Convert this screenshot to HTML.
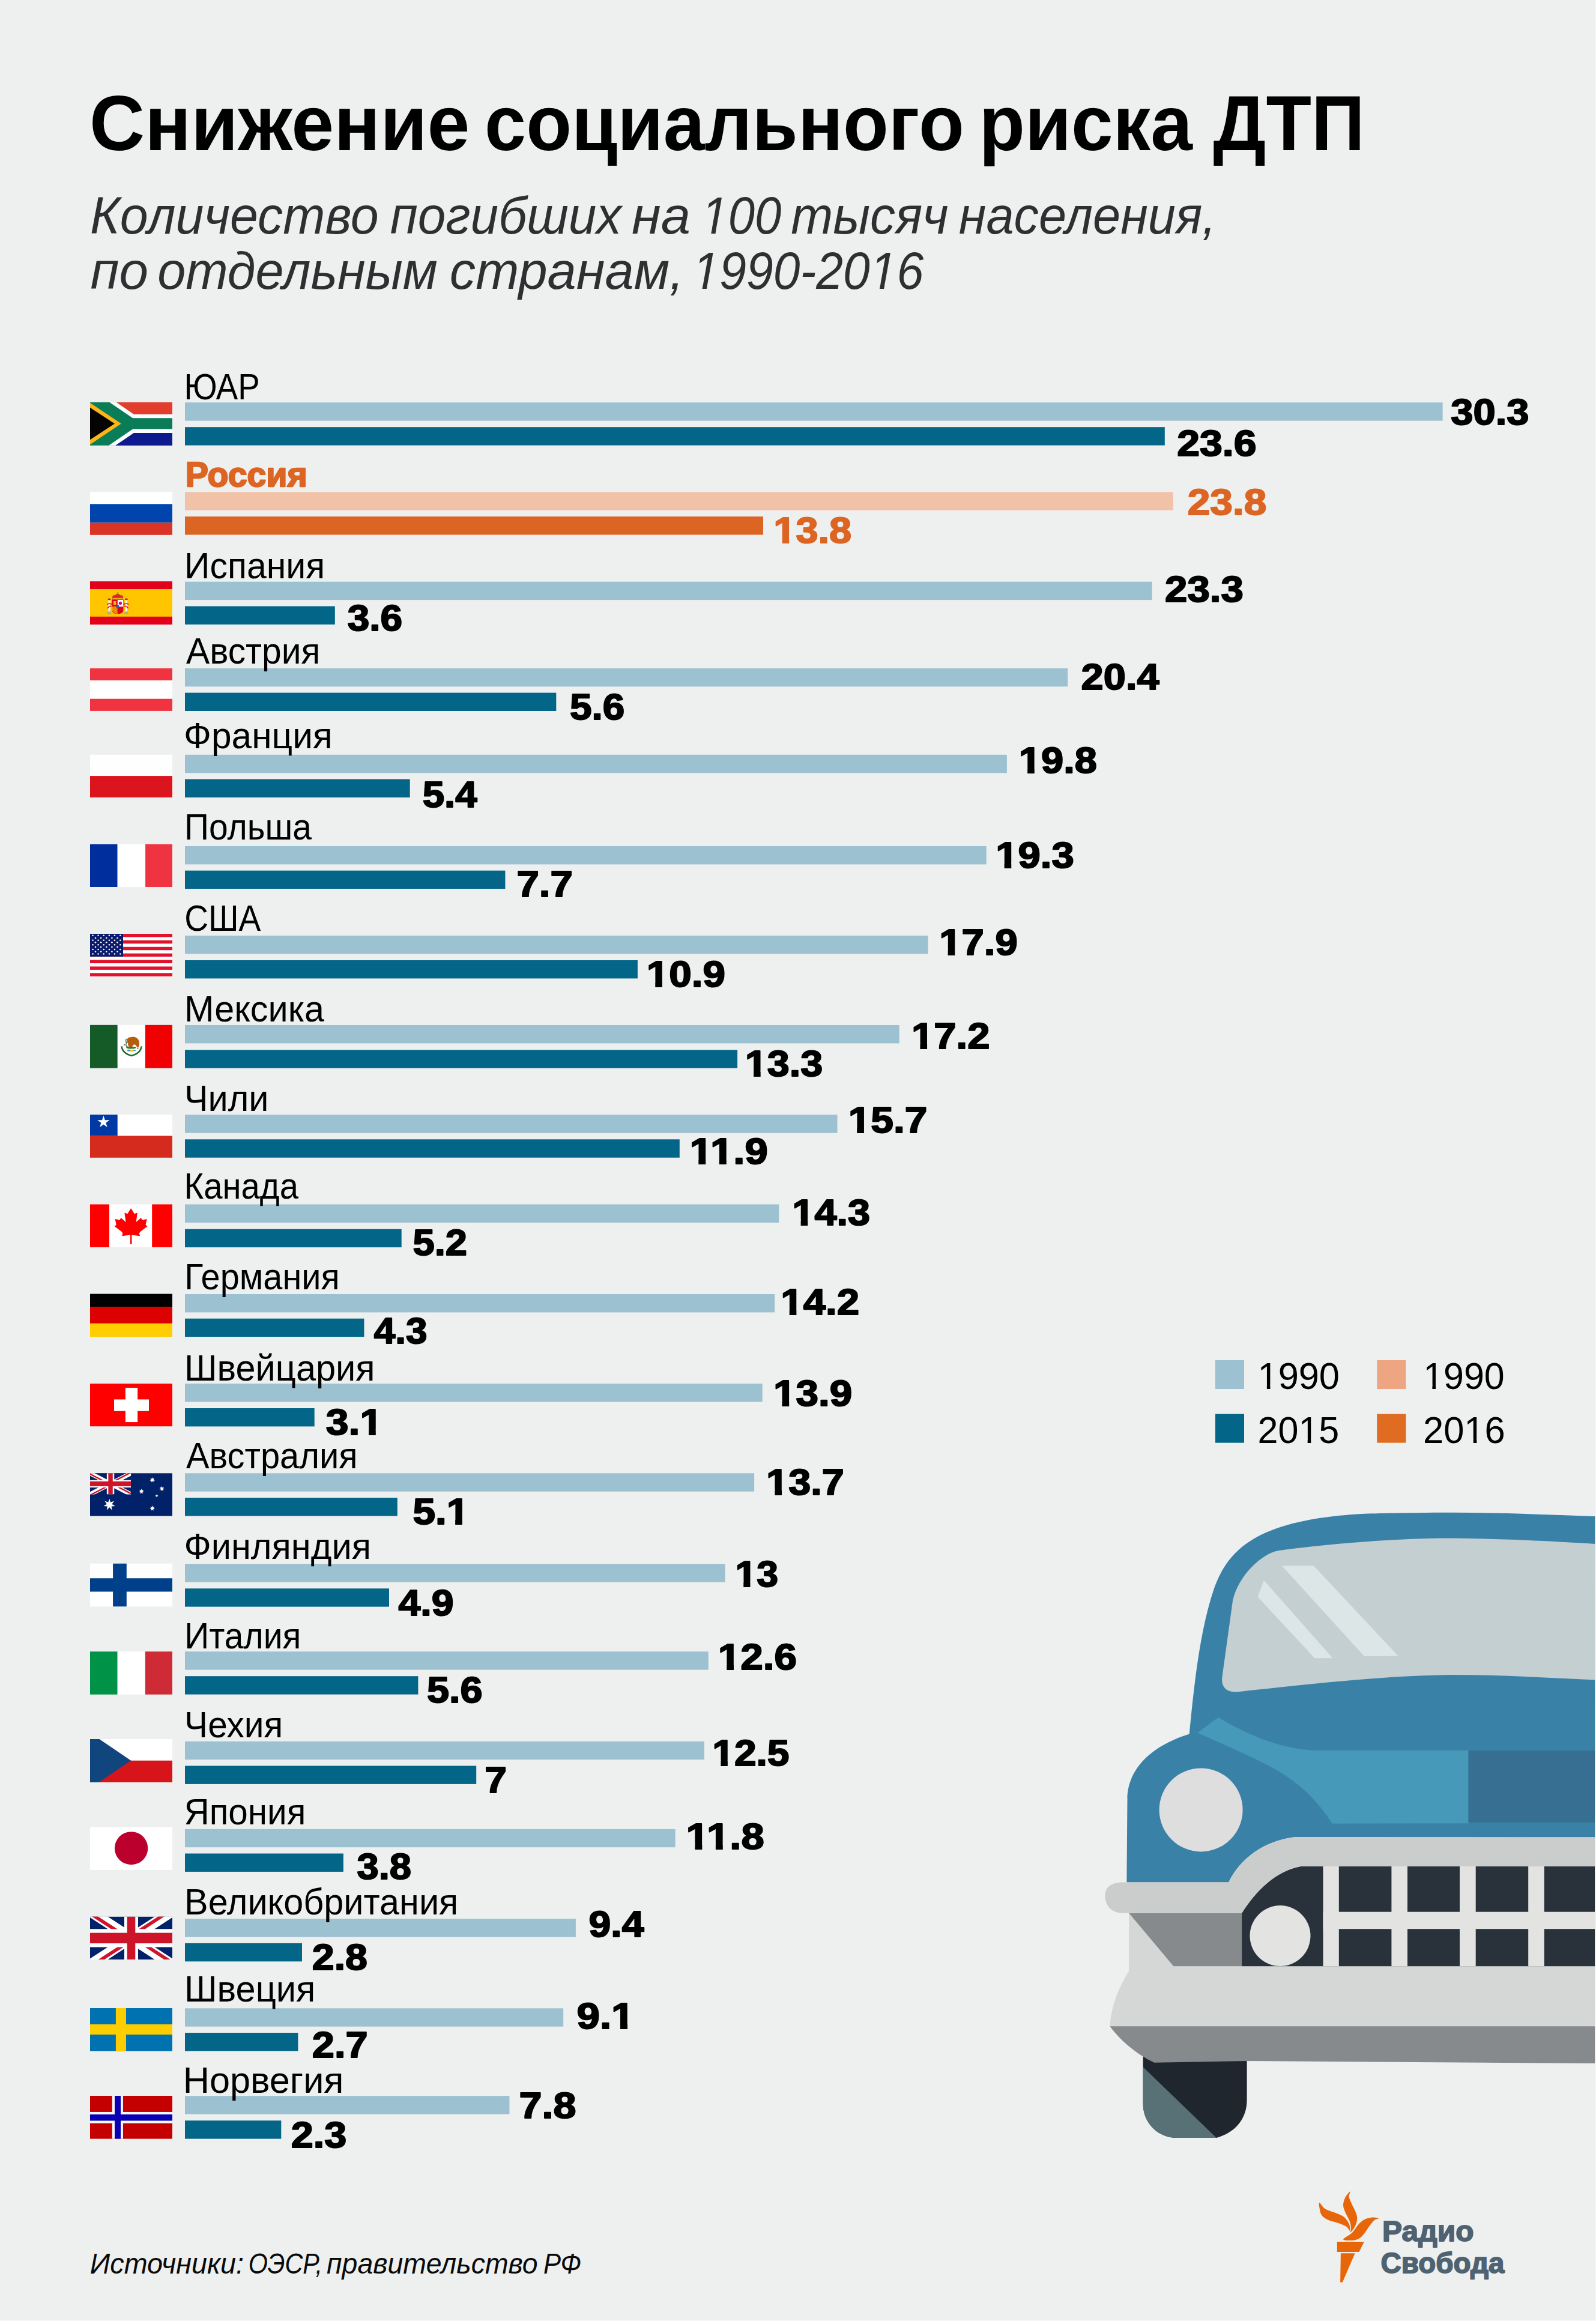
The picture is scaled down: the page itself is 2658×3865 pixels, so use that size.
<!DOCTYPE html>
<html lang="ru"><head><meta charset="utf-8"><title>Снижение социального риска ДТП</title>
<style>
html,body{margin:0;padding:0;background:#EEF0EF;}
svg{display:block;}
text{font-family:"Liberation Sans",sans-serif;}
</style></head>
<body>
<svg width="2658" height="3865" viewBox="0 0 2658 3865">
<rect width="2658" height="3865" fill="#EEF0EF"/>
<path d="M1903.6,3415 L2076.6,3415 L2076.6,3497 C2076.6,3530 2055,3552 2025.8,3560 L1960,3560 C1928,3560 1903.6,3535 1903.6,3503 Z" fill="#1F262D"/>
<path d="M1903.6,3442 L2025.8,3560 L1960,3560 C1928,3560 1903.6,3535 1903.6,3503 Z" fill="#587176"/>
<path d="M1848.2,3374 L2656.2,3374 L2656.2,3436 L2077.5,3432 L1922.4,3434.7 C1893,3421 1866,3398 1848.2,3374 Z" fill="#868A8D"/>
<path d="M1880.1,3185.7 L1954.4,3274.3 L2656.2,3274.3 L2656.2,3374.2 L1848.2,3374.2 C1851,3340 1862,3312 1880.1,3282 Z" fill="#D5D7D6"/>
<path d="M1880.1,3185.7 L2068.1,3185.7 L2068.1,3274.3 L1954.4,3274.3 Z" fill="#868A8D"/>
<path d="M2068.1,3186 C2090,3150 2125,3115 2166,3107.9 L2656.2,3107.9 L2656.2,3274.3 L2068.1,3274.3 Z" fill="#29313A"/>
<rect x="2203.5" y="3106" width="26.3" height="168.3" fill="#E3E3E1"/>
<rect x="2317.4" y="3106" width="26.6" height="168.3" fill="#E3E3E1"/>
<rect x="2431.0" y="3106" width="26.7" height="168.3" fill="#E3E3E1"/>
<rect x="2545.2" y="3106" width="26.6" height="168.3" fill="#E3E3E1"/>
<rect x="2203.5" y="3183.7" width="452.7" height="28.5" fill="#E3E3E1"/>
<circle cx="2132" cy="3223.6" r="50.5" fill="#E3E3E1"/>
<path d="M1980.7,2887.6 C1990,2790 2000,2710 2022,2645 C2040,2595 2070,2565 2125.6,2545.2 C2175,2528 2240,2521 2300,2520.1 C2340,2519.5 2380,2518.8 2418.4,2518.8 C2500,2519 2580,2522 2656.5,2525.1 L2656.2,3059.4 L2155.2,3059.3 C2105,3066 2066,3094 2046.2,3134.5 L1876.4,3134.5 L1877.5,2996.6 C1878,2940 1925,2905 1980.7,2887.6 Z" fill="#3A81A8"/>
<path d="M2656.5,2571 C2580,2566 2480,2561.5 2408.4,2561.5 C2340,2561.5 2220,2569 2130,2582 C2100,2587 2062,2625 2053,2665.5 L2035.3,2793.3 C2033.5,2810 2043,2818 2060,2817.4 C2150,2808 2300,2790 2418.4,2789 C2500,2789 2580,2794 2656.5,2797.5 Z" fill="#C3CFD1"/>
<path d="M2134.8,2607.3 L2187.7,2607.3 L2328.7,2757.7 L2271.8,2757.7 Z" fill="#DDE6E7"/>
<path d="M2104.8,2631.6 L2094.7,2659.2 L2189.5,2761.2 L2219.5,2761.2 Z" fill="#DDE6E7"/>
<path d="M1994.5,2885.4 L2029,2859.7 C2075,2888 2135,2914 2195,2915.1 L2445.5,2915.1 L2445.5,3036.3 L2218.5,3036.7 C2195,2998 2160,2966 2120,2944 C2080,2923 2035,2904 1994.5,2885.4 Z" fill="#4699B8"/>
<rect x="2445.5" y="2915.1" width="210.7" height="119.8" fill="#376F93"/>
<circle cx="2000.1" cy="3013.9" r="69.5" fill="#DEDEDF"/>
<path d="M1870.1,3134.5 L2046.2,3134.5 C2066,3094 2105,3066 2155.2,3059.3 L2656.2,3059.4 L2656.2,3108.1 L2166,3107.9 C2125,3115 2090,3150 2068.1,3185.7 L1870.1,3185.7 C1850,3185.7 1840.4,3172 1840.4,3157 C1840.4,3143 1850,3134.5 1870.1,3134.5 Z" fill="#CBCDCC"/>
<g transform="translate(150.0,669.9) scale(1,0.9986)"><rect x="0.00" y="0.00" width="137.00" height="72.00" fill="#0A7C57"/><path d="M43.9,0 L137,0 L137,20.2 L73,20.2 Z" fill="#E23D2D"/><path d="M32.6,0 L43.9,0 L73,20.2 L137,20.2 L137,26.3 L71.1,26.3 Z" fill="#fff"/><path d="M71.1,44.6 L137,44.6 L137,51.2 L73,51.2 L42.5,72 L31.2,72 Z" fill="#fff"/><path d="M73,51.2 L137,51.2 L137,72 L42.5,72 Z" fill="#0E1B8E"/><path d="M0,0.9 L51.9,35.7 L0,70.5 Z" fill="#FBB519"/><path d="M0,8.9 L40.9,35.7 L0,62.5 Z" fill="#050304"/></g>
<g transform="translate(150.0,819.4) scale(1,0.9917)"><rect x="0.00" y="0.00" width="137.00" height="20.10" fill="#fff"/><rect x="0.00" y="20.10" width="137.00" height="31.40" fill="#0045AE"/><rect x="0.00" y="51.50" width="137.00" height="20.50" fill="#DA3426"/></g>
<g transform="translate(150.0,968.1) scale(1,0.9986)"><rect x="0.00" y="0.00" width="137.00" height="72.00" fill="#E2001A"/><rect x="0.00" y="12.90" width="137.00" height="45.90" fill="#FFC600"/><rect x="30.3" y="31.5" width="3.5" height="18" fill="#F6F6F6"/><ellipse cx="32.05" cy="29.8" rx="2.7" ry="1.4" fill="#B8231C"/><rect x="29.0" y="51.8" width="6.1" height="2.5" fill="#6DB0EE"/><rect x="58.6" y="31.5" width="3.5" height="18" fill="#F6F6F6"/><ellipse cx="60.35" cy="29.8" rx="2.7" ry="1.4" fill="#B8231C"/><rect x="57.300000000000004" y="51.8" width="6.1" height="2.5" fill="#6DB0EE"/><path d="M28.5,38.6 Q32.5,36 36.5,38.4 M29,45 Q33,40.5 35.5,41.5" stroke="#E2001A" stroke-width="1.5" fill="none"/><path d="M64.2,38.6 Q60.2,36 56.2,38.4 M63.7,45 Q59.7,40.5 57.2,41.5" stroke="#E2001A" stroke-width="1.5" fill="none"/><path d="M37,29.8 L37,25.5 Q38.5,21.5 42,23 Q44,20.2 46,20.6 Q48,20.2 50,23 Q53.5,21.5 55,25.5 L55,29.8 Z" fill="#D9232E"/><path d="M37,25.5 Q38.5,21.5 42,23 Q44,20.2 46,20.6 Q48,20.2 50,23 Q53.5,21.5 55,25.5" stroke="#C9A227" stroke-width="0.9" fill="none"/><rect x="37.5" y="27.6" width="17" height="2.3" fill="#E4B20C"/><circle cx="46" cy="19.2" r="0.9" fill="#4A8A5A"/><path d="M36.5,30.2 L55.5,30.2 L55.5,47 Q55.5,54.3 46,54.3 Q36.5,54.3 36.5,47 Z" fill="#E2001A"/><rect x="45.8" y="30.9" width="9.2" height="11.2" fill="#FFFFFF"/><circle cx="50.4" cy="36.4" r="2.7" fill="#C8137A"/><rect x="39" y="33" width="4.4" height="6" fill="#E9C010"/><path d="M37.1,41.9 L45.6,41.9 L45.6,54 Q40,53.5 37.1,49 Z" fill="#F2B800"/><rect x="38.3" y="42.5" width="1.05" height="10.5" fill="#E05A10"/><rect x="40.5" y="42.5" width="1.05" height="10.5" fill="#E05A10"/><rect x="42.7" y="42.5" width="1.05" height="10.5" fill="#E05A10"/><rect x="44.6" y="42.5" width="1.05" height="10.5" fill="#E05A10"/><circle cx="50" cy="47.5" r="0.9" fill="#2A7A2A"/><ellipse cx="46" cy="41.9" rx="2.2" ry="2.9" fill="#1A5FB4"/></g>
<g transform="translate(150.0,1112.9) scale(1,0.9861)"><rect x="0.00" y="0.00" width="137.00" height="72.00" fill="#EF3340"/><rect x="0.00" y="20.30" width="137.00" height="31.20" fill="#fff"/></g>
<g transform="translate(150.0,1256.8) scale(1,0.9861)"><rect x="0.00" y="0.00" width="137.00" height="35.80" fill="#FDFEFD"/><rect x="0.00" y="35.80" width="137.00" height="36.20" fill="#DC141E"/></g>
<g transform="translate(150.0,1405.9) scale(1,0.9875)"><rect x="0.00" y="0.00" width="45.70" height="72.00" fill="#002E9C"/><rect x="45.70" y="0.00" width="46.40" height="72.00" fill="#fff"/><rect x="92.10" y="0.00" width="44.90" height="72.00" fill="#EF3341"/></g>
<g transform="translate(150.0,1555.0) scale(1,0.9833)"><rect x="0.00" y="0.00" width="137.00" height="72.00" fill="#fff"/><rect x="0.00" y="0.00" width="137.00" height="5.54" fill="#E0122C"/><rect x="0.00" y="11.08" width="137.00" height="5.54" fill="#E0122C"/><rect x="0.00" y="22.15" width="137.00" height="5.54" fill="#E0122C"/><rect x="0.00" y="33.23" width="137.00" height="5.54" fill="#E0122C"/><rect x="0.00" y="44.31" width="137.00" height="5.54" fill="#E0122C"/><rect x="0.00" y="55.38" width="137.00" height="5.54" fill="#E0122C"/><rect x="0.00" y="66.46" width="137.00" height="5.54" fill="#E0122C"/><rect x="0.00" y="0.00" width="55.00" height="38.77" fill="#0B1B6B"/><circle cx="4.5" cy="2.8" r="1.3" fill="#fff"/><circle cx="13.6" cy="2.8" r="1.3" fill="#fff"/><circle cx="22.7" cy="2.8" r="1.3" fill="#fff"/><circle cx="31.9" cy="2.8" r="1.3" fill="#fff"/><circle cx="41.0" cy="2.8" r="1.3" fill="#fff"/><circle cx="50.3" cy="2.8" r="1.3" fill="#fff"/><circle cx="9.0" cy="7.1" r="1.3" fill="#fff"/><circle cx="18.1" cy="7.1" r="1.3" fill="#fff"/><circle cx="27.2" cy="7.1" r="1.3" fill="#fff"/><circle cx="36.4" cy="7.1" r="1.3" fill="#fff"/><circle cx="45.5" cy="7.1" r="1.3" fill="#fff"/><circle cx="4.5" cy="10.9" r="1.3" fill="#fff"/><circle cx="13.6" cy="10.9" r="1.3" fill="#fff"/><circle cx="22.7" cy="10.9" r="1.3" fill="#fff"/><circle cx="31.9" cy="10.9" r="1.3" fill="#fff"/><circle cx="41.0" cy="10.9" r="1.3" fill="#fff"/><circle cx="50.3" cy="10.9" r="1.3" fill="#fff"/><circle cx="9.0" cy="14.6" r="1.3" fill="#fff"/><circle cx="18.1" cy="14.6" r="1.3" fill="#fff"/><circle cx="27.2" cy="14.6" r="1.3" fill="#fff"/><circle cx="36.4" cy="14.6" r="1.3" fill="#fff"/><circle cx="45.5" cy="14.6" r="1.3" fill="#fff"/><circle cx="4.5" cy="18.6" r="1.3" fill="#fff"/><circle cx="13.6" cy="18.6" r="1.3" fill="#fff"/><circle cx="22.7" cy="18.6" r="1.3" fill="#fff"/><circle cx="31.9" cy="18.6" r="1.3" fill="#fff"/><circle cx="41.0" cy="18.6" r="1.3" fill="#fff"/><circle cx="50.3" cy="18.6" r="1.3" fill="#fff"/><circle cx="9.0" cy="22.4" r="1.3" fill="#fff"/><circle cx="18.1" cy="22.4" r="1.3" fill="#fff"/><circle cx="27.2" cy="22.4" r="1.3" fill="#fff"/><circle cx="36.4" cy="22.4" r="1.3" fill="#fff"/><circle cx="45.5" cy="22.4" r="1.3" fill="#fff"/><circle cx="4.5" cy="26.4" r="1.3" fill="#fff"/><circle cx="13.6" cy="26.4" r="1.3" fill="#fff"/><circle cx="22.7" cy="26.4" r="1.3" fill="#fff"/><circle cx="31.9" cy="26.4" r="1.3" fill="#fff"/><circle cx="41.0" cy="26.4" r="1.3" fill="#fff"/><circle cx="50.3" cy="26.4" r="1.3" fill="#fff"/><circle cx="9.0" cy="30.2" r="1.3" fill="#fff"/><circle cx="18.1" cy="30.2" r="1.3" fill="#fff"/><circle cx="27.2" cy="30.2" r="1.3" fill="#fff"/><circle cx="36.4" cy="30.2" r="1.3" fill="#fff"/><circle cx="45.5" cy="30.2" r="1.3" fill="#fff"/><circle cx="4.5" cy="34.1" r="1.3" fill="#fff"/><circle cx="13.6" cy="34.1" r="1.3" fill="#fff"/><circle cx="22.7" cy="34.1" r="1.3" fill="#fff"/><circle cx="31.9" cy="34.1" r="1.3" fill="#fff"/><circle cx="41.0" cy="34.1" r="1.3" fill="#fff"/><circle cx="50.3" cy="34.1" r="1.3" fill="#fff"/></g>
<g transform="translate(150.0,1706.8) scale(1,0.9986)"><rect x="0.00" y="0.00" width="45.80" height="72.00" fill="#155B27"/><rect x="45.80" y="0.00" width="46.10" height="72.00" fill="#fff"/><rect x="91.90" y="0.00" width="45.10" height="72.00" fill="#F00000"/><path d="M52.6,35.6 Q54,47.5 69,51.2 Q84,47.5 85.6,35.6" stroke="#1E6B2A" stroke-width="2.6" fill="none"/><ellipse cx="68.5" cy="37.8" rx="8.5" ry="1.9" fill="#2E7D32"/><path d="M61.5,24.5 Q63,19.8 68,20.6 Q72.5,18.6 77.5,21.5 Q82.2,24.5 82,31.5 Q81.8,36.5 79.5,38.3 L75.8,33.6 Q73.3,30.8 71.3,34.4 Q69.5,38.2 66.2,36.8 Q62.5,34.8 63.2,30.6 Q60.2,28.2 61.5,24.5 Z" fill="#B65E0E"/><path d="M60.6,23.5 Q58.2,26.5 60.8,29.5 Q58.6,32.6 61.2,36.4" stroke="#1E6B2A" stroke-width="1.3" fill="none"/><ellipse cx="64.8" cy="42.4" rx="3.1" ry="1.3" fill="#3D8FD6"/><ellipse cx="73.6" cy="42.4" rx="2.4" ry="1.2" fill="#3D8FD6"/><rect x="66.5" y="41.6" width="6" height="2.8" fill="#F2C400"/><circle cx="57" cy="33.2" r="1" fill="#B0102A"/><circle cx="63" cy="36.5" r="1" fill="#B0102A"/><circle cx="79.5" cy="39" r="1" fill="#B0102A"/></g>
<g transform="translate(150.0,1856.2) scale(1,0.9944)"><rect x="0.00" y="0.00" width="137.00" height="72.00" fill="#fff"/><rect x="0.00" y="35.40" width="137.00" height="36.60" fill="#D52B1E"/><rect x="0.00" y="0.00" width="45.70" height="35.40" fill="#0039A6"/><path d="M22.40,1.60 L24.81,8.98 L32.58,8.99 L26.30,13.57 L28.69,20.96 L22.40,16.40 L16.11,20.96 L18.50,13.57 L12.22,8.99 L19.99,8.98 Z" fill="#fff"/></g>
<g transform="translate(150.0,2005.5) scale(1,0.9917)"><rect x="0.00" y="0.00" width="32.10" height="72.00" fill="#FF0000"/><rect x="32.10" y="0.00" width="71.10" height="72.00" fill="#fff"/><rect x="103.20" y="0.00" width="33.80" height="72.00" fill="#FF0000"/><path d="M68.1,6.6 L73.9,16 L78.8,14.1 L76.7,29.7 L84.8,22.8 L87,26.2 L94.6,24.8 L92.5,34.5 L95.6,36.7 L83.1,46.5 L81.9,49.1 L83.1,53.1 L69.3,51.4 L69.6,66.9 L66.8,66.9 L67,51.4 L53.2,53.1 L54.3,49.1 L53.2,46.5 L40.6,36.7 L43.7,34.5 L41.7,24.8 L49.3,26.2 L51.5,22.8 L59.5,29.7 L57.4,14.1 L62.3,16 Z" fill="#FF0000"/></g>
<g transform="translate(150.0,2154.6) scale(1,0.9931)"><rect x="0.00" y="0.00" width="137.00" height="21.60" fill="#000"/><rect x="0.00" y="21.60" width="137.00" height="28.00" fill="#DD0000"/><rect x="0.00" y="49.60" width="137.00" height="22.40" fill="#FFCE00"/></g>
<g transform="translate(150.0,2304.0) scale(1,0.9889)"><rect x="0.00" y="0.00" width="137.00" height="72.00" fill="#FF0000"/><rect x="58.90" y="7.00" width="20.20" height="57.80" fill="#fff"/><rect x="40.00" y="26.70" width="58.00" height="19.50" fill="#fff"/></g>
<g transform="translate(150.0,2453.3) scale(1,0.9875)"><rect x="0.00" y="0.00" width="137.00" height="72.00" fill="#012169"/><g><clipPath id="ujsau"><rect width="68.1" height="35.6"/></clipPath><clipPath id="ujtau"><path d="M34.05,17.8 L434.05,17.8 L434.05,226.90425844346552 Z M34.05,17.8 L34.05,417.8 L-731.1185393258427,417.8 Z M34.05,17.8 L-365.95,17.8 L-365.95,-191.3042584434655 Z M34.05,17.8 L34.05,-382.2 L799.2185393258426,-382.2 Z"/></clipPath><g clip-path="url(#ujsau)"><rect width="68.1" height="35.6" fill="#012169"/><path d="M-365.95,-191.30 L434.05,226.90 M434.05,-191.30 L-365.95,226.90" stroke="#fff" stroke-width="7.40"/><path d="M-365.95,-191.30 L434.05,226.90 M434.05,-191.30 L-365.95,226.90" clip-path="url(#ujtau)" stroke="#CD1429" stroke-width="4.90"/><rect x="27.85" y="0" width="12.40" height="35.6" fill="#fff"/><rect x="0" y="11.60" width="68.1" height="12.40" fill="#fff"/><rect x="30.35" y="0" width="7.40" height="35.6" fill="#CD1429"/><rect x="0" y="13.70" width="68.1" height="8.20" fill="#CD1429"/></g></g><path d="M32.20,43.10 L34.11,49.14 L40.02,46.87 L36.49,52.12 L41.95,55.33 L35.64,55.84 L36.54,62.11 L32.20,57.50 L27.86,62.11 L28.76,55.84 L22.45,55.33 L27.91,52.12 L24.38,46.87 L30.29,49.14 Z" fill="#fff"/><path d="M103.70,6.70 L104.60,9.43 L107.30,8.43 L105.72,10.84 L108.18,12.32 L105.32,12.59 L105.70,15.44 L103.70,13.37 L101.70,15.44 L102.08,12.59 L99.22,12.32 L101.68,10.84 L100.10,8.43 L102.80,9.43 Z" fill="#fff"/><path d="M119.60,21.40 L120.50,24.13 L123.20,23.13 L121.62,25.54 L124.08,27.02 L121.22,27.29 L121.60,30.14 L119.60,28.07 L117.60,30.14 L117.98,27.29 L115.12,27.02 L117.58,25.54 L116.00,23.13 L118.70,24.13 Z" fill="#fff"/><path d="M85.60,26.10 L86.50,28.83 L89.20,27.83 L87.62,30.24 L90.08,31.72 L87.22,31.99 L87.60,34.84 L85.60,32.77 L83.60,34.84 L83.98,31.99 L81.12,31.72 L83.58,30.24 L82.00,27.83 L84.70,28.83 Z" fill="#fff"/><path d="M111.00,35.50 L111.69,37.15 L113.47,37.30 L112.11,38.46 L112.53,40.20 L111.00,39.27 L109.47,40.20 L109.89,38.46 L108.53,37.30 L110.31,37.15 Z" fill="#fff"/><path d="M103.70,54.50 L104.60,57.23 L107.30,56.23 L105.72,58.64 L108.18,60.12 L105.32,60.39 L105.70,63.24 L103.70,61.17 L101.70,63.24 L102.08,60.39 L99.22,60.12 L101.68,58.64 L100.10,56.23 L102.80,57.23 Z" fill="#fff"/></g>
<g transform="translate(150.0,2603.7) scale(1,0.9931)"><rect x="0.00" y="0.00" width="137.00" height="72.00" fill="#fff"/><rect x="38.10" y="0.00" width="22.70" height="72.00" fill="#00408A"/><rect x="0.00" y="24.70" width="137.00" height="22.40" fill="#00408A"/></g>
<g transform="translate(150.0,2750.2) scale(1,0.9931)"><rect x="0.00" y="0.00" width="45.70" height="72.00" fill="#009246"/><rect x="45.70" y="0.00" width="46.20" height="72.00" fill="#fff"/><rect x="91.90" y="0.00" width="45.10" height="72.00" fill="#CE2B37"/></g>
<g transform="translate(150.0,2896.0) scale(1,0.9986)"><rect x="0.00" y="0.00" width="137.00" height="35.80" fill="#fff"/><rect x="0.00" y="35.80" width="137.00" height="36.20" fill="#D7141A"/><path d="M0,0 L15.5,0 L68.1,35.8 L14.6,72 L0,72 Z" fill="#11457E"/></g>
<g transform="translate(150.0,3042.5) scale(1,0.9917)"><rect x="0.00" y="0.00" width="137.00" height="72.00" fill="#fff"/><circle cx="68.6" cy="35.5" r="27.7" fill="#BC002D"/></g>
<g transform="translate(150.0,3191.6) scale(1,0.9931)"><clipPath id="ujsgb"><rect width="137.0" height="72.0"/></clipPath><clipPath id="ujtgb"><path d="M68.5,36.0 L468.5,36.0 L468.5,298.0 Z M68.5,36.0 L68.5,436.0 L-542.1870229007633,436.0 Z M68.5,36.0 L-331.5,36.0 L-331.5,-226.0 Z M68.5,36.0 L68.5,-364.0 L679.1870229007633,-364.0 Z"/></clipPath><g clip-path="url(#ujsgb)"><rect width="137.0" height="72.0" fill="#012169"/><path d="M-331.50,-226.00 L468.50,298.00 M468.50,-226.00 L-331.50,298.00" stroke="#fff" stroke-width="17.40"/><path d="M-331.50,-226.00 L468.50,298.00 M468.50,-226.00 L-331.50,298.00" clip-path="url(#ujtgb)" stroke="#CD1429" stroke-width="11.30"/><rect x="57.00" y="0" width="23.00" height="72.0" fill="#fff"/><rect x="0" y="20.80" width="137.0" height="30.40" fill="#fff"/><rect x="61.70" y="0" width="13.60" height="72.0" fill="#CD1429"/><rect x="0" y="27.20" width="137.0" height="17.60" fill="#CD1429"/></g></g>
<g transform="translate(150.0,3344.0) scale(1,0.9931)"><rect x="0.00" y="0.00" width="137.00" height="72.00" fill="#0072B0"/><rect x="42.90" y="0.00" width="17.10" height="72.00" fill="#FECD00"/><rect x="0.00" y="27.20" width="137.00" height="17.20" fill="#FECD00"/></g>
<g transform="translate(150.0,3490.0) scale(1,0.9944)"><rect x="0.00" y="0.00" width="137.00" height="72.00" fill="#C40000"/><rect x="36.80" y="0.00" width="18.10" height="72.00" fill="#F7F7F7"/><rect x="0.00" y="27.10" width="137.00" height="18.90" fill="#F7F7F7"/><rect x="41.00" y="0.00" width="10.00" height="72.00" fill="#0A00B4"/><rect x="0.00" y="31.20" width="137.00" height="10.50" fill="#0A00B4"/></g>
<rect x="308.0" y="670.2" width="2094.6" height="30.4" fill="#9CC1D0"/>
<rect x="308.0" y="711.2" width="1631.8" height="30.4" fill="#036587"/>
<rect x="308.0" y="819.3" width="1645.8" height="30.4" fill="#F2C2A8"/>
<rect x="308.0" y="860.1" width="963.0" height="30.4" fill="#DD6524"/>
<rect x="308.0" y="968.7" width="1610.7" height="30.4" fill="#9CC1D0"/>
<rect x="308.0" y="1009.5" width="249.8" height="30.4" fill="#036587"/>
<rect x="308.0" y="1112.9" width="1470.2" height="30.4" fill="#9CC1D0"/>
<rect x="308.0" y="1153.6" width="618.3" height="30.4" fill="#036587"/>
<rect x="308.0" y="1256.8" width="1368.9" height="30.4" fill="#9CC1D0"/>
<rect x="308.0" y="1297.5" width="374.7" height="30.4" fill="#036587"/>
<rect x="308.0" y="1409.0" width="1334.7" height="30.4" fill="#9CC1D0"/>
<rect x="308.0" y="1449.7" width="533.4" height="30.4" fill="#036587"/>
<rect x="308.0" y="1558.0" width="1237.6" height="30.4" fill="#9CC1D0"/>
<rect x="308.0" y="1599.0" width="753.9" height="30.4" fill="#036587"/>
<rect x="308.0" y="1707.0" width="1189.7" height="30.4" fill="#9CC1D0"/>
<rect x="308.0" y="1748.3" width="920.1" height="30.4" fill="#036587"/>
<rect x="308.0" y="1856.3" width="1086.5" height="30.4" fill="#9CC1D0"/>
<rect x="308.0" y="1897.3" width="823.8" height="30.4" fill="#036587"/>
<rect x="308.0" y="2005.5" width="989.3" height="30.4" fill="#9CC1D0"/>
<rect x="308.0" y="2046.7" width="360.7" height="30.4" fill="#036587"/>
<rect x="308.0" y="2155.0" width="982.2" height="30.4" fill="#9CC1D0"/>
<rect x="308.0" y="2195.7" width="298.4" height="30.4" fill="#036587"/>
<rect x="308.0" y="2304.0" width="961.7" height="30.4" fill="#9CC1D0"/>
<rect x="308.0" y="2345.0" width="215.7" height="30.4" fill="#036587"/>
<rect x="308.0" y="2453.3" width="948.1" height="30.4" fill="#9CC1D0"/>
<rect x="308.0" y="2494.0" width="353.8" height="30.4" fill="#036587"/>
<rect x="308.0" y="2604.2" width="899.7" height="30.4" fill="#9CC1D0"/>
<rect x="308.0" y="2645.2" width="340.0" height="30.4" fill="#036587"/>
<rect x="308.0" y="2750.2" width="871.8" height="30.4" fill="#9CC1D0"/>
<rect x="308.0" y="2791.2" width="388.4" height="30.4" fill="#036587"/>
<rect x="308.0" y="2899.8" width="865.0" height="30.4" fill="#9CC1D0"/>
<rect x="308.0" y="2940.5" width="485.2" height="30.4" fill="#036587"/>
<rect x="308.0" y="3045.8" width="816.6" height="30.4" fill="#9CC1D0"/>
<rect x="308.0" y="3086.5" width="263.9" height="30.4" fill="#036587"/>
<rect x="308.0" y="3195.2" width="650.9" height="30.4" fill="#9CC1D0"/>
<rect x="308.0" y="3235.9" width="195.0" height="30.4" fill="#036587"/>
<rect x="308.0" y="3344.3" width="630.2" height="30.4" fill="#9CC1D0"/>
<rect x="308.0" y="3385.0" width="188.4" height="30.4" fill="#036587"/>
<rect x="308.0" y="3490.2" width="540.5" height="30.4" fill="#9CC1D0"/>
<rect x="308.0" y="3531.2" width="160.3" height="30.4" fill="#036587"/>
<rect x="2024" y="2265" width="48" height="48" fill="#9CC1D0"/>
<rect x="2024" y="2354.6" width="48" height="48" fill="#036587"/>
<rect x="2293.2" y="2265" width="48.2" height="48" fill="#EDA681"/>
<rect x="2293.2" y="2354.6" width="48.2" height="48" fill="#E06C22"/>
<path d="M2226.8,3732.9 L2271.9,3732.9 L2263.5,3750.0 L2226.8,3750.0 Z" fill="#E8660A"/>
<path d="M2232.9,3752.2 L2256.6,3752.2 L2235.8,3800.5 L2232.1,3800.5 Z" fill="#E8660A"/>
<path d="M2197.5,3668.1 C2199.1,3668.4 2202.2,3675.4 2206.9,3678.3 C2211.6,3681.2 2220.3,3683.3 2225.6,3685.6 C2230.9,3687.9 2235.1,3689.1 2238.6,3692.1 C2242.1,3695.1 2245.2,3699.8 2246.8,3703.5 C2248.4,3707.2 2248.8,3713.8 2248.0,3714.5 C2247.2,3715.2 2245.1,3709.7 2241.9,3707.6 C2238.7,3705.5 2233.8,3703.7 2228.9,3701.9 C2224.0,3700.1 2217.2,3699.2 2212.6,3697.0 C2208.0,3694.8 2203.7,3692.3 2201.2,3688.9 C2198.7,3685.5 2198.1,3680.2 2197.5,3676.7 C2196.9,3673.2 2195.9,3667.8 2197.5,3668.1 Z" fill="#E8660A"/>
<path d="M2248.4,3649.4 C2247.3,3649.5 2242.2,3655.6 2240.3,3659.5 C2238.4,3663.4 2236.9,3668.2 2237.0,3672.6 C2237.1,3676.9 2239.3,3681.3 2241.1,3685.6 C2242.9,3689.9 2246.1,3694.5 2247.6,3698.6 C2249.1,3702.7 2249.7,3706.9 2250.0,3710.0 C2250.3,3713.1 2248.1,3717.8 2249.2,3717.4 C2250.3,3717.0 2254.8,3711.3 2256.6,3707.6 C2258.4,3703.9 2259.9,3699.2 2260.2,3695.4 C2260.5,3691.6 2259.6,3688.9 2258.2,3684.8 C2256.8,3680.7 2253.6,3675.3 2251.7,3671.0 C2249.8,3666.7 2247.4,3662.3 2246.8,3658.7 C2246.2,3655.1 2249.5,3649.3 2248.4,3649.4 Z" fill="#E8660A"/>
<path d="M2296.1,3694.2 C2295.4,3693.4 2289.1,3692.2 2285.1,3692.5 C2281.1,3692.8 2275.8,3694.2 2272.0,3696.2 C2268.2,3698.2 2265.7,3700.6 2262.3,3704.3 C2258.9,3708.0 2255.9,3714.1 2251.7,3718.2 C2247.5,3722.3 2237.6,3726.7 2237.0,3728.8 C2236.4,3730.9 2244.3,3730.8 2248.4,3730.8 C2252.5,3730.8 2257.7,3730.5 2261.5,3728.8 C2265.3,3727.1 2267.8,3724.5 2271.2,3720.6 C2274.6,3716.7 2278.8,3709.1 2281.8,3705.2 C2284.8,3701.3 2286.7,3698.8 2289.1,3697.0 C2291.5,3695.2 2296.8,3694.9 2296.1,3694.2 Z" fill="#E8660A"/>
<g transform="translate(149.06,250.00) scale(0.9884,1)"><text font-size="129.0" font-weight="bold" font-style="normal" fill="#000">Снижение</text></g>
<g transform="translate(807.09,250.00) scale(0.9626,1)"><text font-size="129.0" font-weight="bold" font-style="normal" fill="#000">социального</text></g>
<g transform="translate(1630.46,250.00) scale(0.9707,1)"><text font-size="129.0" font-weight="bold" font-style="normal" fill="#000">риска</text></g>
<g transform="translate(2020.34,250.00) scale(0.9587,1)"><text font-size="129.0" font-weight="bold" font-style="normal" fill="#000">ДТП</text></g>
<g transform="translate(150.11,388.90) scale(0.9643,1)"><text font-size="87.5" font-weight="normal" font-style="italic" fill="#2F2F31">Количество</text></g>
<g transform="translate(649.69,388.90) scale(0.9568,1)"><text font-size="87.5" font-weight="normal" font-style="italic" fill="#2F2F31">погибших</text></g>
<g transform="translate(1051.98,388.90) scale(1.0109,1)"><text font-size="87.5" font-weight="normal" font-style="italic" fill="#2F2F31">на</text></g>
<g transform="translate(1168.37,388.90) scale(0.9098,1)"><text font-size="87.5" font-weight="normal" font-style="italic" fill="#2F2F31">100</text><path d="M0.44,1.60 L2.37,-8.14 L19.10,-8.14 L17.20,1.60 Z" fill="#EEF0EF"/><path d="M25.14,1.60 L27.03,-8.14 L43.09,-8.14 L41.17,1.60 Z" fill="#EEF0EF"/></g>
<g transform="translate(1317.18,388.90) scale(0.9613,1)"><text font-size="87.5" font-weight="normal" font-style="italic" fill="#2F2F31">тысяч</text></g>
<g transform="translate(1596.80,388.90) scale(0.9477,1)"><text font-size="87.5" font-weight="normal" font-style="italic" fill="#2F2F31">населения,</text></g>
<g transform="translate(150.41,481.00) scale(0.9967,1)"><text font-size="87.5" font-weight="normal" font-style="italic" fill="#2F2F31">по</text></g>
<g transform="translate(262.20,481.00) scale(0.9672,1)"><text font-size="87.5" font-weight="normal" font-style="italic" fill="#2F2F31">отдельным</text></g>
<g transform="translate(748.83,481.00) scale(0.9908,1)"><text font-size="87.5" font-weight="normal" font-style="italic" fill="#2F2F31">странам,</text></g>
<g transform="translate(1153.44,481.00) scale(0.9198,1)"><text font-size="87.5" font-weight="normal" font-style="italic" fill="#2F2F31">1990-2016</text><path d="M0.44,1.60 L2.37,-8.14 L19.10,-8.14 L17.20,1.60 Z" fill="#EEF0EF"/><path d="M25.14,1.60 L27.03,-8.14 L43.09,-8.14 L41.17,1.60 Z" fill="#EEF0EF"/><path d="M321.55,1.60 L323.48,-8.14 L340.20,-8.14 L338.31,1.60 Z" fill="#EEF0EF"/><path d="M346.25,1.60 L348.14,-8.14 L364.20,-8.14 L362.28,1.60 Z" fill="#EEF0EF"/></g>
<g transform="translate(306.53,664.80) scale(0.8947,1)"><text font-size="61.0" font-weight="normal" font-style="normal" fill="#000">ЮАР</text></g>
<g transform="translate(2416.30,706.90) scale(1.1052,1)"><text font-size="60.5" font-weight="bold" font-style="normal" fill="#000" stroke="#000" stroke-width="2.0" stroke-linejoin="round">30.3</text></g>
<g transform="translate(1960.28,758.60) scale(1.1235,1)"><text font-size="60.5" font-weight="bold" font-style="normal" fill="#000" stroke="#000" stroke-width="2.0" stroke-linejoin="round">23.6</text></g>
<g transform="translate(308.86,809.70) scale(1.0123,1)"><text font-size="56.5" font-weight="bold" font-style="normal" fill="#DD6524" stroke="#DD6524" stroke-width="2.4" stroke-linejoin="round">Россия</text></g>
<g transform="translate(1977.68,857.40) scale(1.1181,1)"><text font-size="60.5" font-weight="bold" font-style="normal" fill="#DD6524" stroke="#DD6524" stroke-width="2.0" stroke-linejoin="round">23.8</text></g>
<g transform="translate(1288.29,904.00) scale(1.1035,1)"><text font-size="60.5" font-weight="bold" font-style="normal" fill="#DD6524" stroke="#DD6524" stroke-width="2.0" stroke-linejoin="round">13.8</text><path d="M1.31,-8.77 L13.02,-8.77 L13.02,2.60 L1.31,2.60 Z" fill="#EEF0EF"/><path d="M23.52,-8.77 L34.46,-8.77 L34.46,2.60 L23.52,2.60 Z" fill="#EEF0EF"/></g>
<g transform="translate(307.07,963.40) scale(0.9670,1)"><text font-size="61.0" font-weight="normal" font-style="normal" fill="#000">Испания</text></g>
<g transform="translate(1940.09,1001.50) scale(1.1113,1)"><text font-size="60.5" font-weight="bold" font-style="normal" fill="#000" stroke="#000" stroke-width="2.0" stroke-linejoin="round">23.3</text></g>
<g transform="translate(578.80,1050.10) scale(1.0867,1)"><text font-size="60.5" font-weight="bold" font-style="normal" fill="#000" stroke="#000" stroke-width="2.0" stroke-linejoin="round">3.6</text></g>
<g transform="translate(310.00,1105.00) scale(0.9632,1)"><text font-size="61.0" font-weight="normal" font-style="normal" fill="#000">Австрия</text></g>
<g transform="translate(1800.60,1147.90) scale(1.1043,1)"><text font-size="60.5" font-weight="bold" font-style="normal" fill="#000" stroke="#000" stroke-width="2.0" stroke-linejoin="round">20.4</text></g>
<g transform="translate(949.01,1198.00) scale(1.0854,1)"><text font-size="60.5" font-weight="bold" font-style="normal" fill="#000" stroke="#000" stroke-width="2.0" stroke-linejoin="round">5.6</text></g>
<g transform="translate(306.04,1246.00) scale(0.9905,1)"><text font-size="61.0" font-weight="normal" font-style="normal" fill="#000">Франция</text></g>
<g transform="translate(1696.78,1287.00) scale(1.1053,1)"><text font-size="60.5" font-weight="bold" font-style="normal" fill="#000" stroke="#000" stroke-width="2.0" stroke-linejoin="round">19.8</text><path d="M1.31,-8.77 L13.02,-8.77 L13.02,2.60 L1.31,2.60 Z" fill="#EEF0EF"/><path d="M23.52,-8.77 L34.46,-8.77 L34.46,2.60 L23.52,2.60 Z" fill="#EEF0EF"/></g>
<g transform="translate(703.72,1343.90) scale(1.0798,1)"><text font-size="60.5" font-weight="bold" font-style="normal" fill="#000" stroke="#000" stroke-width="2.0" stroke-linejoin="round">5.4</text></g>
<g transform="translate(306.92,1398.30) scale(0.9356,1)"><text font-size="61.0" font-weight="normal" font-style="normal" fill="#000">Польша</text></g>
<g transform="translate(1658.17,1444.80) scale(1.1088,1)"><text font-size="60.5" font-weight="bold" font-style="normal" fill="#000" stroke="#000" stroke-width="2.0" stroke-linejoin="round">19.3</text><path d="M1.31,-8.77 L13.02,-8.77 L13.02,2.60 L1.31,2.60 Z" fill="#EEF0EF"/><path d="M23.52,-8.77 L34.46,-8.77 L34.46,2.60 L23.52,2.60 Z" fill="#EEF0EF"/></g>
<g transform="translate(860.48,1493.00) scale(1.1112,1)"><text font-size="60.5" font-weight="bold" font-style="normal" fill="#000" stroke="#000" stroke-width="2.0" stroke-linejoin="round">7.7</text></g>
<g transform="translate(307.29,1550.30) scale(0.9036,1)"><text font-size="61.0" font-weight="normal" font-style="normal" fill="#000">США</text></g>
<g transform="translate(1564.17,1590.20) scale(1.1097,1)"><text font-size="60.5" font-weight="bold" font-style="normal" fill="#000" stroke="#000" stroke-width="2.0" stroke-linejoin="round">17.9</text><path d="M1.31,-8.77 L13.02,-8.77 L13.02,2.60 L1.31,2.60 Z" fill="#EEF0EF"/><path d="M23.52,-8.77 L34.46,-8.77 L34.46,2.60 L23.52,2.60 Z" fill="#EEF0EF"/></g>
<g transform="translate(1076.76,1643.40) scale(1.1142,1)"><text font-size="60.5" font-weight="bold" font-style="normal" fill="#000" stroke="#000" stroke-width="2.0" stroke-linejoin="round">10.9</text><path d="M1.31,-8.77 L13.02,-8.77 L13.02,2.60 L1.31,2.60 Z" fill="#EEF0EF"/><path d="M23.52,-8.77 L34.46,-8.77 L34.46,2.60 L23.52,2.60 Z" fill="#EEF0EF"/></g>
<g transform="translate(307.03,1700.60) scale(0.9735,1)"><text font-size="61.0" font-weight="normal" font-style="normal" fill="#000">Мексика</text></g>
<g transform="translate(1517.97,1745.70) scale(1.1088,1)"><text font-size="60.5" font-weight="bold" font-style="normal" fill="#000" stroke="#000" stroke-width="2.0" stroke-linejoin="round">17.2</text><path d="M1.31,-8.77 L13.02,-8.77 L13.02,2.60 L1.31,2.60 Z" fill="#EEF0EF"/><path d="M23.52,-8.77 L34.46,-8.77 L34.46,2.60 L23.52,2.60 Z" fill="#EEF0EF"/></g>
<g transform="translate(1240.80,1791.80) scale(1.1000,1)"><text font-size="60.5" font-weight="bold" font-style="normal" fill="#000" stroke="#000" stroke-width="2.0" stroke-linejoin="round">13.3</text><path d="M1.31,-8.77 L13.02,-8.77 L13.02,2.60 L1.31,2.60 Z" fill="#EEF0EF"/><path d="M23.52,-8.77 L34.46,-8.77 L34.46,2.60 L23.52,2.60 Z" fill="#EEF0EF"/></g>
<g transform="translate(307.04,1850.10) scale(0.9726,1)"><text font-size="61.0" font-weight="normal" font-style="normal" fill="#000">Чили</text></g>
<g transform="translate(1412.64,1886.00) scale(1.1186,1)"><text font-size="60.5" font-weight="bold" font-style="normal" fill="#000" stroke="#000" stroke-width="2.0" stroke-linejoin="round">15.7</text><path d="M1.31,-8.77 L13.02,-8.77 L13.02,2.60 L1.31,2.60 Z" fill="#EEF0EF"/><path d="M23.52,-8.77 L34.46,-8.77 L34.46,2.60 L23.52,2.60 Z" fill="#EEF0EF"/></g>
<g transform="translate(1148.48,1937.60) scale(1.1391,1)"><text font-size="60.5" font-weight="bold" font-style="normal" fill="#000" stroke="#000" stroke-width="2.0" stroke-linejoin="round">11.9</text><path d="M1.31,-8.77 L13.02,-8.77 L13.02,2.60 L1.31,2.60 Z" fill="#EEF0EF"/><path d="M23.52,-8.77 L34.46,-8.77 L34.46,2.60 L23.52,2.60 Z" fill="#EEF0EF"/><path d="M31.61,-8.77 L43.32,-8.77 L43.32,2.60 L31.61,2.60 Z" fill="#EEF0EF"/><path d="M53.82,-8.77 L64.76,-8.77 L64.76,2.60 L53.82,2.60 Z" fill="#EEF0EF"/></g>
<g transform="translate(306.39,1995.80) scale(0.9228,1)"><text font-size="61.0" font-weight="normal" font-style="normal" fill="#000">Канада</text></g>
<g transform="translate(1319.29,2039.60) scale(1.1027,1)"><text font-size="60.5" font-weight="bold" font-style="normal" fill="#000" stroke="#000" stroke-width="2.0" stroke-linejoin="round">14.3</text><path d="M1.31,-8.77 L13.02,-8.77 L13.02,2.60 L1.31,2.60 Z" fill="#EEF0EF"/><path d="M23.52,-8.77 L34.46,-8.77 L34.46,2.60 L23.52,2.60 Z" fill="#EEF0EF"/></g>
<g transform="translate(687.42,2090.10) scale(1.0768,1)"><text font-size="60.5" font-weight="bold" font-style="normal" fill="#000" stroke="#000" stroke-width="2.0" stroke-linejoin="round">5.2</text></g>
<g transform="translate(307.17,2146.50) scale(0.9458,1)"><text font-size="61.0" font-weight="normal" font-style="normal" fill="#000">Германия</text></g>
<g transform="translate(1300.27,2189.40) scale(1.1115,1)"><text font-size="60.5" font-weight="bold" font-style="normal" fill="#000" stroke="#000" stroke-width="2.0" stroke-linejoin="round">14.2</text><path d="M1.31,-8.77 L13.02,-8.77 L13.02,2.60 L1.31,2.60 Z" fill="#EEF0EF"/><path d="M23.52,-8.77 L34.46,-8.77 L34.46,2.60 L23.52,2.60 Z" fill="#EEF0EF"/></g>
<g transform="translate(622.70,2237.00) scale(1.0566,1)"><text font-size="60.5" font-weight="bold" font-style="normal" fill="#000" stroke="#000" stroke-width="2.0" stroke-linejoin="round">4.3</text></g>
<g transform="translate(307.02,2298.50) scale(0.9756,1)"><text font-size="61.0" font-weight="normal" font-style="normal" fill="#000">Швейцария</text></g>
<g transform="translate(1287.95,2340.70) scale(1.1150,1)"><text font-size="60.5" font-weight="bold" font-style="normal" fill="#000" stroke="#000" stroke-width="2.0" stroke-linejoin="round">13.9</text><path d="M1.31,-8.77 L13.02,-8.77 L13.02,2.60 L1.31,2.60 Z" fill="#EEF0EF"/><path d="M23.52,-8.77 L34.46,-8.77 L34.46,2.60 L23.52,2.60 Z" fill="#EEF0EF"/></g>
<g transform="translate(542.80,2388.90) scale(1.1216,1)"><text font-size="60.5" font-weight="bold" font-style="normal" fill="#000" stroke="#000" stroke-width="2.0" stroke-linejoin="round">3.1</text><path d="M51.76,-8.77 L63.47,-8.77 L63.47,2.60 L51.76,2.60 Z" fill="#EEF0EF"/><path d="M73.97,-8.77 L84.92,-8.77 L84.92,2.60 L73.97,2.60 Z" fill="#EEF0EF"/></g>
<g transform="translate(310.00,2445.10) scale(0.9475,1)"><text font-size="61.0" font-weight="normal" font-style="normal" fill="#000">Австралия</text></g>
<g transform="translate(1276.09,2488.60) scale(1.1018,1)"><text font-size="60.5" font-weight="bold" font-style="normal" fill="#000" stroke="#000" stroke-width="2.0" stroke-linejoin="round">13.7</text><path d="M1.31,-8.77 L13.02,-8.77 L13.02,2.60 L1.31,2.60 Z" fill="#EEF0EF"/><path d="M23.52,-8.77 L34.46,-8.77 L34.46,2.60 L23.52,2.60 Z" fill="#EEF0EF"/></g>
<g transform="translate(687.38,2538.10) scale(1.1151,1)"><text font-size="60.5" font-weight="bold" font-style="normal" fill="#000" stroke="#000" stroke-width="2.0" stroke-linejoin="round">5.1</text><path d="M51.76,-8.77 L63.47,-8.77 L63.47,2.60 L51.76,2.60 Z" fill="#EEF0EF"/><path d="M73.97,-8.77 L84.92,-8.77 L84.92,2.60 L73.97,2.60 Z" fill="#EEF0EF"/></g>
<g transform="translate(306.40,2596.40) scale(0.9762,1)"><text font-size="61.0" font-weight="normal" font-style="normal" fill="#000">Финляндия</text></g>
<g transform="translate(1224.40,2642.10) scale(1.0651,1)"><text font-size="60.5" font-weight="bold" font-style="normal" fill="#000" stroke="#000" stroke-width="2.0" stroke-linejoin="round">13</text><path d="M1.31,-8.77 L13.02,-8.77 L13.02,2.60 L1.31,2.60 Z" fill="#EEF0EF"/><path d="M23.52,-8.77 L34.46,-8.77 L34.46,2.60 L23.52,2.60 Z" fill="#EEF0EF"/></g>
<g transform="translate(663.40,2689.70) scale(1.0952,1)"><text font-size="60.5" font-weight="bold" font-style="normal" fill="#000" stroke="#000" stroke-width="2.0" stroke-linejoin="round">4.9</text></g>
<g transform="translate(307.22,2744.90) scale(0.9352,1)"><text font-size="61.0" font-weight="normal" font-style="normal" fill="#000">Италия</text></g>
<g transform="translate(1195.75,2779.80) scale(1.1150,1)"><text font-size="60.5" font-weight="bold" font-style="normal" fill="#000" stroke="#000" stroke-width="2.0" stroke-linejoin="round">12.6</text><path d="M1.31,-8.77 L13.02,-8.77 L13.02,2.60 L1.31,2.60 Z" fill="#EEF0EF"/><path d="M23.52,-8.77 L34.46,-8.77 L34.46,2.60 L23.52,2.60 Z" fill="#EEF0EF"/></g>
<g transform="translate(710.90,2835.40) scale(1.1012,1)"><text font-size="60.5" font-weight="bold" font-style="normal" fill="#000" stroke="#000" stroke-width="2.0" stroke-linejoin="round">5.6</text></g>
<g transform="translate(307.09,2893.10) scale(0.9611,1)"><text font-size="61.0" font-weight="normal" font-style="normal" fill="#000">Чехия</text></g>
<g transform="translate(1186.23,2940.10) scale(1.0895,1)"><text font-size="60.5" font-weight="bold" font-style="normal" fill="#000" stroke="#000" stroke-width="2.0" stroke-linejoin="round">12.5</text><path d="M1.31,-8.77 L13.02,-8.77 L13.02,2.60 L1.31,2.60 Z" fill="#EEF0EF"/><path d="M23.52,-8.77 L34.46,-8.77 L34.46,2.60 L23.52,2.60 Z" fill="#EEF0EF"/></g>
<g transform="translate(807.22,2985.20) scale(1.0900,1)"><text font-size="60.5" font-weight="bold" font-style="normal" fill="#000" stroke="#000" stroke-width="2.0" stroke-linejoin="round">7</text></g>
<g transform="translate(306.53,3038.20) scale(0.9580,1)"><text font-size="61.0" font-weight="normal" font-style="normal" fill="#000">Япония</text></g>
<g transform="translate(1142.59,3078.60) scale(1.1373,1)"><text font-size="60.5" font-weight="bold" font-style="normal" fill="#000" stroke="#000" stroke-width="2.0" stroke-linejoin="round">11.8</text><path d="M1.31,-8.77 L13.02,-8.77 L13.02,2.60 L1.31,2.60 Z" fill="#EEF0EF"/><path d="M23.52,-8.77 L34.46,-8.77 L34.46,2.60 L23.52,2.60 Z" fill="#EEF0EF"/><path d="M31.61,-8.77 L43.32,-8.77 L43.32,2.60 L31.61,2.60 Z" fill="#EEF0EF"/><path d="M53.82,-8.77 L64.76,-8.77 L64.76,2.60 L53.82,2.60 Z" fill="#EEF0EF"/></g>
<g transform="translate(594.50,3128.70) scale(1.0759,1)"><text font-size="60.5" font-weight="bold" font-style="normal" fill="#000" stroke="#000" stroke-width="2.0" stroke-linejoin="round">3.8</text></g>
<g transform="translate(307.03,3188.30) scale(0.9741,1)"><text font-size="61.0" font-weight="normal" font-style="normal" fill="#000">Великобритания</text></g>
<g transform="translate(980.51,3224.50) scale(1.0940,1)"><text font-size="60.5" font-weight="bold" font-style="normal" fill="#000" stroke="#000" stroke-width="2.0" stroke-linejoin="round">9.4</text></g>
<g transform="translate(519.80,3279.70) scale(1.0963,1)"><text font-size="60.5" font-weight="bold" font-style="normal" fill="#000" stroke="#000" stroke-width="2.0" stroke-linejoin="round">2.8</text></g>
<g transform="translate(307.02,3332.70) scale(0.9766,1)"><text font-size="61.0" font-weight="normal" font-style="normal" fill="#000">Швеция</text></g>
<g transform="translate(960.46,3378.40) scale(1.1425,1)"><text font-size="60.5" font-weight="bold" font-style="normal" fill="#000" stroke="#000" stroke-width="2.0" stroke-linejoin="round">9.1</text><path d="M51.76,-8.77 L63.47,-8.77 L63.47,2.60 L51.76,2.60 Z" fill="#EEF0EF"/><path d="M73.97,-8.77 L84.92,-8.77 L84.92,2.60 L73.97,2.60 Z" fill="#EEF0EF"/></g>
<g transform="translate(519.80,3426.30) scale(1.1025,1)"><text font-size="60.5" font-weight="bold" font-style="normal" fill="#000" stroke="#000" stroke-width="2.0" stroke-linejoin="round">2.7</text></g>
<g transform="translate(304.78,3484.60) scale(1.0031,1)"><text font-size="61.0" font-weight="normal" font-style="normal" fill="#000">Норвегия</text></g>
<g transform="translate(864.44,3527.10) scale(1.1309,1)"><text font-size="60.5" font-weight="bold" font-style="normal" fill="#000" stroke="#000" stroke-width="2.0" stroke-linejoin="round">7.8</text></g>
<g transform="translate(484.80,3576.30) scale(1.1000,1)"><text font-size="60.5" font-weight="bold" font-style="normal" fill="#000" stroke="#000" stroke-width="2.0" stroke-linejoin="round">2.3</text></g>
<g transform="translate(2094.51,2312.90) scale(0.9817,1)"><text font-size="62.5" font-weight="normal" font-style="normal" fill="#000">1990</text><path d="M3.26,-6.27 L15.62,-6.27 L15.62,1.60 L3.26,1.60 Z" fill="#EEF0EF"/><path d="M21.34,-6.27 L33.21,-6.27 L33.21,1.60 L21.34,1.60 Z" fill="#EEF0EF"/></g>
<g transform="translate(2094.47,2403.00) scale(0.9774,1)"><text font-size="62.5" font-weight="normal" font-style="normal" fill="#000">2015</text><path d="M72.78,-6.27 L85.13,-6.27 L85.13,1.60 L72.78,1.60 Z" fill="#EEF0EF"/><path d="M90.86,-6.27 L102.72,-6.27 L102.72,1.60 L90.86,1.60 Z" fill="#EEF0EF"/></g>
<g transform="translate(2370.15,2312.90) scale(0.9756,1)"><text font-size="62.5" font-weight="normal" font-style="normal" fill="#000">1990</text><path d="M3.26,-6.27 L15.62,-6.27 L15.62,1.60 L3.26,1.60 Z" fill="#EEF0EF"/><path d="M21.34,-6.27 L33.21,-6.27 L33.21,1.60 L21.34,1.60 Z" fill="#EEF0EF"/></g>
<g transform="translate(2369.95,2403.00) scale(0.9842,1)"><text font-size="62.5" font-weight="normal" font-style="normal" fill="#000">2016</text><path d="M72.78,-6.27 L85.13,-6.27 L85.13,1.60 L72.78,1.60 Z" fill="#EEF0EF"/><path d="M90.86,-6.27 L102.72,-6.27 L102.72,1.60 L90.86,1.60 Z" fill="#EEF0EF"/></g>
<g transform="translate(149.87,3786.30) scale(0.9645,1)"><text font-size="48.5" font-weight="normal" font-style="italic" fill="#0A0A0A">Источники:</text></g>
<g transform="translate(413.75,3786.30) scale(0.8515,1)"><text font-size="48.5" font-weight="normal" font-style="italic" fill="#0A0A0A">ОЭСР,</text></g>
<g transform="translate(544.04,3786.30) scale(0.9570,1)"><text font-size="48.5" font-weight="normal" font-style="italic" fill="#0A0A0A">правительство</text></g>
<g transform="translate(904.90,3786.30) scale(0.8985,1)"><text font-size="48.5" font-weight="normal" font-style="italic" fill="#0A0A0A">РФ</text></g>
<g transform="translate(2302.03,3731.90) scale(1.0361,1)"><text font-size="48.0" font-weight="bold" font-style="normal" fill="#4F6271" stroke="#4F6271" stroke-width="1.8" stroke-linejoin="round">Радио</text></g>
<g transform="translate(2299.41,3784.90) scale(0.9890,1)"><text font-size="48.0" font-weight="bold" font-style="normal" fill="#4F6271" stroke="#4F6271" stroke-width="1.8" stroke-linejoin="round">Свобода</text></g>
<rect x="2656.6" y="0" width="1.4" height="3865" fill="#F7F7F7"/>
<rect x="0" y="3863.8" width="2658" height="1.2" fill="#F7F7F7"/>
</svg>
</body></html>
